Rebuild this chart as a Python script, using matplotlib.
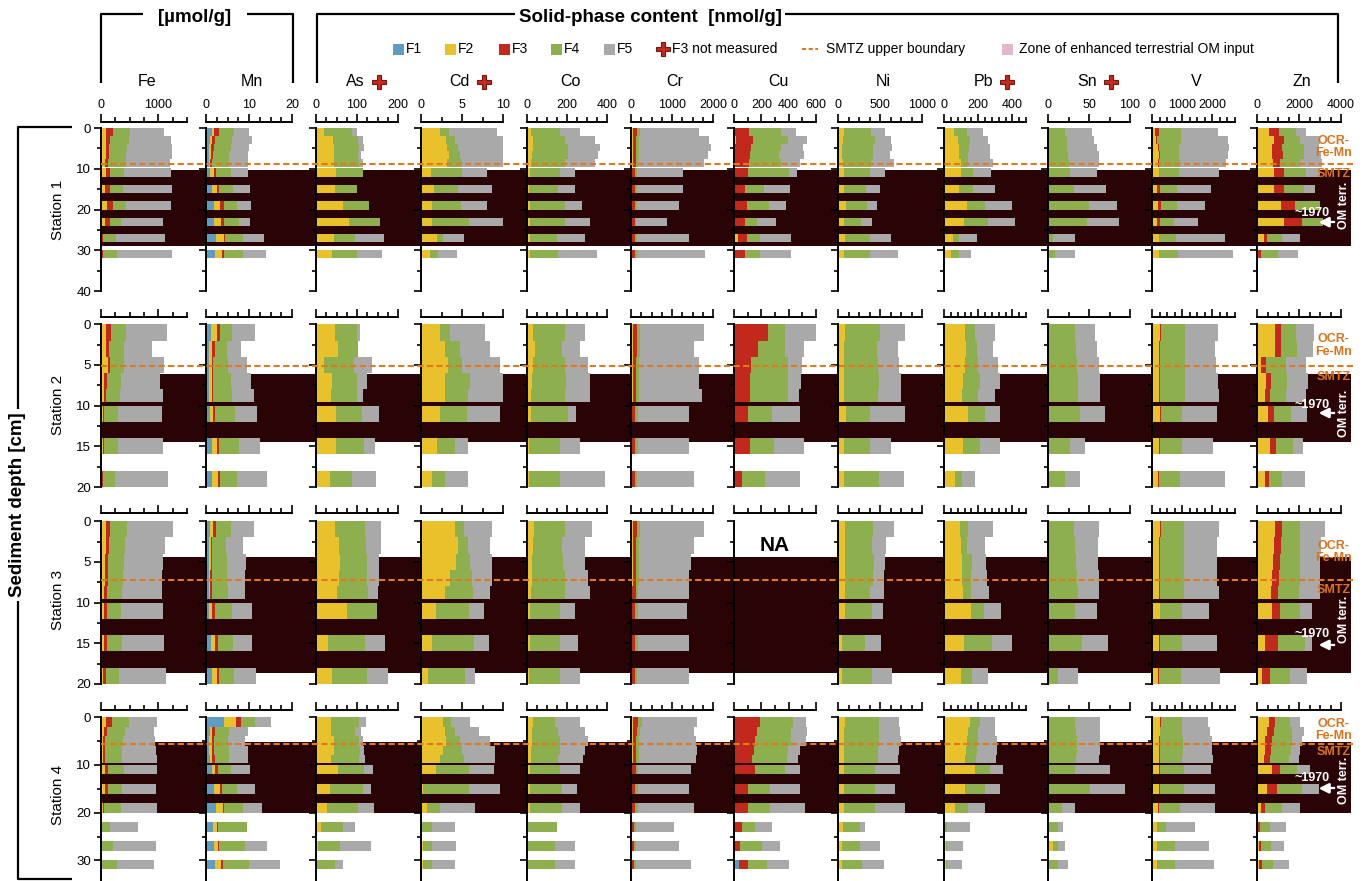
import matplotlib
matplotlib.use('Agg')
import matplotlib.pyplot as plt
import matplotlib.transforms as mtransforms
from matplotlib.patches import Rectangle
from matplotlib.lines import Line2D
import numpy as np

plt.rcParams['font.family'] = ['Liberation Sans', 'DejaVu Sans']

# ---- sample depth intervals [cm] per station ----
st1_depths = [(0, 1.9), (1.9, 3.8), (3.8, 5.7), (5.7, 7.6), (7.6, 9.5),
              (9.8, 12), (14, 16), (18, 20), (22, 24), (26, 28), (30, 32)]
st2_depths = [(0, 2), (2, 4), (4, 6), (6, 8), (8, 9.6), (10, 12), (14, 16), (18, 20)]
st3_depths = [(0, 2), (2, 4), (4, 6), (6, 8), (8, 9.6), (10, 12), (14, 16), (18, 20)]
st4_depths = [(0, 2), (2, 4), (4, 6), (6, 8), (8, 9.7),
              (10, 12), (14, 16), (18, 20), (22, 24), (26, 28), (29.8, 31.8)]

# SMTZ upper boundary and zone of enhanced terrestrial OM input [cm]
smtz_depth = [8.9, 5.1, 7.2, 5.7]
om_zone = [(10.3, 29.0), (6.1, 14.5), (4.4, 18.6), (5.2, 20.1)]

elements = ['Fe', 'Mn', 'As', 'Cd', 'Co', 'Cr', 'Cu', 'Ni', 'Pb', 'Sn', 'V', 'Zn']
f3_missing = ['As', 'Cd', 'Pb', 'Sn']
fractions = ['F1', 'F2', 'F3', 'F4', 'F5']

# fraction contents per sample: [F1, F2, F3, F4, F5], one list per station
fe_vals = [
    [[0, 90, 120, 290, 600], [0, 80, 70, 330, 740], [0, 80, 60, 320, 780], [0, 80, 60, 300, 790],
     [0, 70, 60, 300, 770], [0, 80, 75, 250, 810], [0, 70, 85, 230, 850], [0, 100, 115, 220, 785],
     [0, 65, 100, 185, 740], [0, 0, 40, 230, 840], [0, 0, 30, 255, 945]],
    [[0, 87, 87, 261, 713], [0, 87, 58, 261, 476], [0, 116, 41, 238, 696], [0, 58, 41, 249, 679],
     [0, 46, 41, 249, 754], [0, 29, 29, 244, 754], [0, 29, 29, 244, 783], [0, 0, 29, 215, 928]],
    [[0, 90, 70, 300, 800], [0, 80, 60, 280, 700], [0, 70, 60, 270, 690], [0, 70, 50, 270, 680],
     [0, 60, 50, 260, 690], [0, 50, 50, 250, 740], [0, 50, 50, 260, 740], [0, 40, 40, 230, 820]],
    [[0, 87, 99, 307, 476], [0, 58, 41, 319, 505], [0, 41, 35, 302, 563], [0, 41, 29, 290, 598],
     [0, 29, 41, 290, 610], [0, 70, 58, 278, 563], [0, 70, 58, 232, 592], [0, 29, 23, 290, 627],
     [0, 0, 0, 157, 493], [0, 0, 23, 191, 742], [0, 0, 23, 261, 638]],
]
mn_vals = [
    [[1.3, 0.6, 1.2, 3.4, 3.6], [0.9, 0.5, 0.7, 4.0, 4.5], [0.7, 0.5, 0.6, 3.9, 4.4], [0.6, 0.5, 0.5, 3.8, 4.4],
     [0.6, 0.4, 0.5, 3.9, 4.4], [1.0, 0.8, 0.5, 3.5, 4.0], [1.4, 1.2, 0.5, 3.1, 4.1], [1.9, 1.4, 0.8, 3.1, 3.3],
     [1.8, 1.6, 0.8, 3.5, 2.5], [2.3, 1.8, 0.4, 4.0, 4.9], [2.1, 1.6, 0.5, 4.4, 5.4]],
    [[1.2, 1.3, 0.8, 2.7, 5.4], [0.7, 0.8, 0.5, 2.9, 3.3], [0.7, 0.6, 0.4, 3.5, 4.3], [0.7, 0.6, 0.4, 4.1, 4.7],
     [0.7, 0.6, 0.4, 4.3, 5.1], [0.9, 0.8, 0.5, 4.5, 5.1], [1.3, 1.2, 0.5, 4.7, 4.9], [1.5, 1.2, 0.5, 3.9, 7.2]],
    [[0.9, 0.8, 0.6, 3.6, 5.2], [0.6, 0.5, 0.4, 3.2, 4.0], [0.6, 0.5, 0.4, 3.3, 4.4], [0.6, 0.4, 0.4, 3.5, 4.2],
     [0.6, 0.4, 0.4, 3.6, 4.0], [0.8, 0.7, 0.5, 4.0, 4.8], [1.2, 1.0, 0.5, 3.6, 4.3], [1.4, 1.1, 0.5, 3.6, 5.0]],
    [[4.1, 2.9, 1.2, 3.3, 3.6], [1.0, 0.5, 0.6, 3.3, 4.3], [0.8, 0.5, 0.5, 3.3, 3.9], [0.8, 0.5, 0.5, 3.6, 4.3],
     [1.0, 0.5, 0.5, 3.4, 4.4], [1.4, 0.8, 0.5, 3.1, 4.5], [1.9, 1.4, 0.5, 3.3, 4.4], [2.3, 1.6, 0.4, 4.3, 4.5],
     [1.7, 0.9, 0.3, 6.6, 0.0], [1.8, 0.9, 0.4, 6.0, 5.1], [2.2, 1.2, 0.5, 6.2, 7.0]],
]
as_vals = [
    [[0, 20, 0, 69, 12], [0, 41, 0, 61, 12], [0, 45, 0, 61, 11], [0, 45, 0, 57, 8], [0, 45, 0, 61, 8],
     [0, 49, 0, 65, 0], [0, 46, 0, 55, 0], [0, 67, 0, 63, 0], [0, 80, 0, 77, 0], [0, 45, 0, 51, 71],
     [0, 39, 0, 60, 63]],
    [[0, 46, 0, 54, 7], [0, 54, 0, 49, 0], [0, 20, 0, 72, 45], [0, 38, 0, 61, 26], [0, 36, 0, 63, 16],
     [0, 49, 0, 63, 41], [0, 49, 0, 67, 28], [0, 33, 0, 54, 59]],
    [[0, 46, 0, 73, 40], [0, 55, 0, 68, 35], [0, 58, 0, 66, 30], [0, 55, 0, 70, 28], [0, 52, 0, 75, 25],
     [0, 76, 0, 73, 0], [0, 29, 0, 90, 49], [0, 39, 0, 85, 51]],
    [[0, 37, 0, 69, 16], [0, 37, 0, 57, 15], [0, 45, 0, 61, 8], [0, 43, 0, 65, 8], [0, 37, 0, 67, 16],
     [0, 54, 0, 63, 23], [0, 34, 0, 80, 20], [0, 28, 0, 75, 39], [0, 11, 0, 56, 29], [0, 4, 0, 55, 75],
     [0, 2, 0, 44, 21]],
]
cd_vals = [
    [[0, 2.3, 0, 1.1, 5.9], [0, 3.1, 0, 1.1, 6.1], [0, 3.2, 0, 1.3, 6.1], [0, 3.4, 0, 1.3, 6.1],
     [0, 3.2, 0, 1.8, 5.6], [0, 1.2, 0, 3.8, 3.0], [0, 1.6, 0, 2.9, 4.1], [0, 1.3, 0, 3.6, 3.2],
     [0, 1.4, 0, 4.5, 4.3], [0, 1.9, 0, 0.8, 2.6], [0, 1.1, 0, 1.0, 2.3]],
    [[0, 2.3, 0, 1.2, 4.3], [0, 2.9, 0, 1.8, 3.7], [0, 3.3, 0, 1.7, 4.6], [0, 2.9, 0, 3.1, 4.3],
     [0, 2.9, 0, 2.8, 4.5], [0, 2.3, 0, 3.3, 4.0], [0, 2.0, 0, 2.2, 1.5], [0, 1.3, 0, 1.6, 2.8]],
    [[0, 4.1, 0, 1.2, 3.4], [0, 4.5, 0, 1.2, 2.7], [0, 4.3, 0, 1.7, 2.7], [0, 3.5, 0, 2.7, 2.4],
     [0, 2.9, 0, 3.5, 2.0], [0, 1.8, 0, 4.1, 1.8], [0, 1.3, 0, 5.2, 1.8], [0, 0.9, 0, 4.5, 1.2]],
    [[0, 2.7, 0, 0.9, 2.4], [0, 2.9, 0, 1.2, 3.0], [0, 3.0, 0, 1.7, 3.7], [0, 2.7, 0, 2.3, 4.0],
     [0, 2.3, 0, 3.0, 3.7], [0, 1.8, 0, 4.1, 3.0], [0, 0.2, 0, 5.7, 3.7], [0, 0.7, 0, 1.6, 4.3],
     [0, 0, 0, 1.3, 2.8], [0, 0.2, 0, 1.1, 3.0], [0, 0.2, 0, 1.1, 2.8]],
]
co_vals = [
    [[0, 20, 0, 145, 100], [0, 30, 0, 160, 150], [0, 30, 0, 175, 160], [0, 25, 0, 180, 150],
     [0, 20, 0, 170, 150], [0, 15, 0, 150, 75], [0, 10, 0, 145, 85], [0, 15, 0, 175, 85],
     [0, 15, 0, 175, 125], [0, 15, 0, 135, 140], [0, 15, 0, 140, 195]],
    [[0, 30, 0, 160, 100], [0, 40, 0, 135, 90], [0, 30, 0, 160, 115], [0, 25, 0, 170, 120],
     [0, 20, 0, 170, 125], [0, 20, 0, 185, 40], [0, 10, 0, 155, 100], [0, 10, 0, 155, 225]],
    [[0, 35, 0, 155, 135], [0, 30, 0, 145, 115], [0, 25, 0, 155, 110], [0, 25, 0, 165, 115],
     [0, 20, 0, 170, 125], [0, 15, 0, 150, 75], [0, 15, 0, 150, 90], [0, 10, 0, 155, 100]],
    [[0, 30, 0, 110, 125], [0, 25, 0, 130, 135], [0, 25, 0, 140, 140], [0, 20, 0, 145, 125],
     [0, 20, 0, 135, 125], [0, 15, 0, 150, 100], [0, 15, 0, 160, 75], [0, 15, 0, 160, 90],
     [0, 5, 0, 145, 0], [0, 5, 0, 135, 100], [0, 5, 0, 135, 100]],
]
cr_vals = [
    [[0, 50, 100, 70, 1440], [0, 40, 90, 70, 1700], [0, 40, 80, 70, 1750], [0, 40, 80, 70, 1700],
     [0, 40, 80, 60, 1600], [0, 30, 70, 50, 1110], [0, 30, 70, 50, 1110], [0, 30, 60, 50, 1040],
     [0, 30, 60, 40, 760], [0, 30, 70, 50, 1270], [0, 30, 70, 60, 1640]],
    [[0, 50, 100, 80, 1550], [0, 50, 90, 70, 1330], [0, 40, 90, 70, 1460], [0, 40, 80, 70, 1470],
     [0, 40, 80, 70, 1540], [0, 30, 70, 60, 1260], [0, 30, 70, 60, 1260], [0, 30, 60, 60, 1390]],
    [[0, 40, 100, 70, 1560], [0, 40, 90, 70, 1340], [0, 40, 80, 70, 1280], [0, 40, 80, 70, 1230],
     [0, 30, 80, 70, 1240], [0, 30, 70, 60, 1210], [0, 30, 70, 60, 1260], [0, 30, 60, 60, 1270]],
    [[0, 60, 120, 80, 1340], [0, 50, 100, 80, 1300], [0, 40, 90, 70, 1380], [0, 40, 80, 70, 1410],
     [0, 40, 80, 70, 1390], [0, 30, 80, 60, 1290], [0, 30, 70, 60, 1260], [0, 30, 70, 60, 1380],
     [0, 20, 60, 40, 940], [0, 20, 60, 40, 1060], [0, 20, 60, 50, 1330]],
]
cu_vals = [
    [[0, 10, 100, 232, 110], [0, 17, 125, 250, 140], [0, 5, 120, 220, 160], [0, 5, 115, 212, 178],
     [0, 5, 105, 232, 142], [0, 0, 105, 298, 56], [0, 0, 80, 139, 190], [0, 0, 98, 159, 122],
     [0, 0, 78, 93, 134], [0, 29, 68, 93, 224], [0, 10, 71, 110, 229]],
    [[0, 10, 240, 120, 230], [0, 5, 170, 200, 140], [0, 5, 120, 270, 100], [0, 5, 110, 280, 95],
     [0, 5, 110, 280, 80], [0, 0, 100, 175, 205], [0, 0, 115, 180, 220], [0, 0, 60, 170, 255]],
    None,
    [[0, 10, 180, 240, 100], [0, 5, 160, 250, 120], [0, 5, 150, 260, 110], [0, 5, 140, 250, 90],
     [0, 5, 130, 250, 80], [0, 0, 150, 220, 110], [0, 0, 100, 160, 220], [0, 0, 100, 160, 260],
     [0, 0, 60, 95, 125], [0, 0, 45, 160, 130], [40, 0, 60, 145, 160]],
]
ni_vals = [
    [[0, 67, 0, 330, 159], [0, 60, 0, 377, 198], [0, 52, 0, 365, 230], [0, 52, 0, 365, 198],
     [0, 60, 0, 337, 266], [0, 67, 0, 310, 179], [0, 67, 0, 262, 175], [0, 99, 0, 246, 119],
     [0, 67, 0, 210, 131], [0, 79, 0, 298, 258], [0, 67, 0, 310, 337]],
    [[0, 80, 0, 420, 300], [0, 70, 0, 400, 240], [0, 70, 0, 410, 250], [0, 70, 0, 420, 260],
     [0, 70, 0, 410, 270], [0, 90, 0, 290, 420], [0, 70, 0, 310, 250], [0, 70, 0, 420, 300]],
    [[0, 87, 0, 330, 246], [0, 87, 0, 322, 167], [0, 79, 0, 346, 131], [0, 79, 0, 338, 127],
     [0, 79, 0, 306, 159], [0, 87, 0, 322, 127], [0, 52, 0, 274, 190], [0, 48, 0, 357, 242]],
    [[0, 80, 0, 410, 240], [0, 70, 0, 420, 250], [0, 70, 0, 420, 260], [0, 70, 0, 410, 250],
     [0, 70, 0, 410, 240], [0, 70, 0, 370, 300], [0, 70, 0, 370, 240], [0, 70, 0, 370, 360],
     [0, 60, 0, 200, 60], [0, 50, 0, 210, 240], [0, 50, 0, 230, 270]],
]
pb_vals = [
    [[0, 58, 0, 74, 94], [0, 84, 0, 68, 107], [0, 90, 0, 58, 121], [0, 90, 0, 53, 127],
     [0, 98, 0, 45, 142], [0, 98, 0, 70, 105], [0, 90, 0, 78, 131], [0, 133, 0, 107, 156],
     [0, 119, 0, 137, 160], [0, 51, 0, 39, 101], [0, 39, 0, 51, 66]],
    [[0, 123, 0, 58, 117], [0, 129, 0, 64, 94], [0, 123, 0, 76, 117], [0, 111, 0, 100, 117],
     [0, 105, 0, 94, 100], [0, 140, 0, 100, 88], [0, 111, 0, 100, 117], [0, 64, 0, 41, 76]],
    [[0, 94, 0, 49, 146], [0, 98, 0, 35, 107], [0, 103, 0, 59, 84], [0, 103, 0, 53, 94],
     [0, 109, 0, 47, 109], [0, 156, 0, 78, 98], [0, 117, 0, 166, 113], [0, 98, 0, 64, 98]],
    [[0, 152, 0, 58, 88], [0, 140, 0, 60, 100], [0, 135, 0, 65, 110], [0, 130, 0, 65, 115],
     [0, 125, 0, 60, 120], [0, 181, 0, 88, 76], [0, 123, 0, 117, 88], [0, 64, 0, 76, 100],
     [0, 0, 0, 20, 130], [0, 10, 0, 10, 90], [0, 10, 0, 10, 85]],
]
sn_vals = [
    [[0, 0, 0, 21, 33], [0, 0, 0, 23, 33], [0, 0, 0, 23, 37], [0, 0, 0, 24, 38], [0, 0, 0, 25, 37],
     [0, 0, 0, 27, 33], [0, 0, 0, 32, 39], [0, 0, 0, 50, 34], [0, 0, 0, 47, 39], [0, 0, 0, 6, 27],
     [0, 0, 0, 8, 25]],
    [[0, 0, 0, 33, 24], [0, 0, 0, 34, 26], [0, 0, 0, 35, 27], [0, 0, 0, 36, 27], [0, 0, 0, 37, 26],
     [0, 0, 0, 39, 30], [0, 0, 0, 27, 18], [0, 0, 0, 21, 18]],
    [[0, 0, 0, 32, 30], [0, 0, 0, 33, 28], [0, 0, 0, 34, 27], [0, 0, 0, 35, 27], [0, 0, 0, 36, 26],
     [0, 0, 0, 33, 27], [0, 0, 0, 41, 32], [0, 0, 0, 12, 24]],
    [[0, 0, 0, 33, 30], [0, 0, 0, 34, 30], [0, 0, 0, 35, 29], [0, 0, 0, 35, 28], [0, 0, 0, 34, 28],
     [0, 0, 0, 33, 43], [0, 0, 0, 51, 43], [0, 0, 0, 17, 16], [0, 0, 0, 12, 6], [0, 6, 0, 6, 9],
     [0, 0, 0, 12, 12]],
]
v_vals = [
    [[0, 88, 143, 737, 1210], [0, 143, 30, 795, 1540], [0, 198, 20, 693, 1628], [0, 231, 20, 660, 1595],
     [0, 198, 20, 695, 1540], [0, 231, 0, 660, 1342], [0, 165, 88, 583, 1122], [0, 198, 110, 528, 935],
     [0, 165, 88, 462, 803], [0, 231, 0, 550, 1628], [0, 231, 0, 627, 1815]],
    [[0, 260, 50, 780, 1090], [0, 240, 40, 800, 1000], [0, 230, 30, 820, 1050], [0, 220, 30, 830, 1100],
     [0, 220, 30, 830, 1150], [0, 260, 30, 700, 1150], [0, 230, 30, 720, 1050], [0, 200, 30, 700, 1500]],
    [[0, 260, 40, 760, 1150], [0, 240, 30, 780, 1100], [0, 230, 30, 800, 1080], [0, 220, 30, 810, 1100],
     [0, 220, 30, 820, 1150], [0, 250, 30, 720, 900], [0, 220, 30, 750, 1150], [0, 200, 30, 720, 1300]],
    [[0, 270, 40, 700, 830], [0, 250, 30, 730, 900], [0, 240, 30, 760, 950], [0, 230, 30, 760, 980],
     [0, 220, 30, 760, 1000], [0, 220, 30, 800, 920], [0, 220, 30, 800, 1050], [0, 200, 30, 700, 1150],
     [0, 150, 20, 300, 950], [0, 150, 20, 580, 1150], [0, 150, 20, 580, 1300]],
]
zn_vals = [
    [[0, 556, 477, 843, 477], [0, 795, 477, 795, 954], [0, 715, 477, 1033, 715], [0, 715, 525, 1017, 795],
     [0, 763, 350, 954, 1033], [0, 795, 477, 1081, 668], [0, 827, 445, 986, 525], [0, 1161, 668, 1161, 0],
     [0, 1272, 874, 1002, 0], [0, 318, 159, 715, 874], [0, 50, 160, 795, 954]],
    [[0, 843, 318, 715, 827], [0, 843, 318, 747, 747], [0, 207, 238, 922, 986], [0, 413, 238, 779, 1002],
     [0, 366, 238, 763, 954], [0, 525, 270, 843, 747], [0, 604, 286, 827, 477], [0, 366, 191, 652, 1065]],
    [[0, 857, 333, 857, 1190], [0, 800, 330, 900, 1000], [0, 750, 330, 950, 950], [0, 700, 330, 1000, 950],
     [0, 650, 330, 1000, 1000], [0, 714, 380, 950, 570], [0, 380, 620, 1285, 330], [0, 240, 380, 950, 800]],
    [[0, 556, 318, 715, 477], [0, 477, 318, 874, 556], [0, 398, 318, 954, 477], [0, 366, 318, 938, 445],
     [0, 318, 318, 874, 477], [0, 715, 398, 795, 636], [0, 477, 477, 1193, 795], [0, 207, 159, 827, 843],
     [0, 40, 90, 509, 731], [0, 80, 111, 477, 604], [0, 80, 159, 525, 747]],
]

data = {'Fe': fe_vals, 'Mn': mn_vals, 'As': as_vals, 'Cd': cd_vals, 'Co': co_vals, 'Cr': cr_vals,
        'Cu': cu_vals, 'Ni': ni_vals, 'Pb': pb_vals, 'Sn': sn_vals, 'V': v_vals, 'Zn': zn_vals}
depths = [st1_depths, st2_depths, st3_depths, st4_depths]

# x-axis ranges, labelled ticks and minor tick step per element
x_max = {'Fe': 1500, 'Mn': 20, 'As': 200, 'Cd': 10, 'Co': 400, 'Cr': 2000,
         'Cu': 600, 'Ni': 1000, 'Pb': 480, 'Sn': 100, 'V': 2750, 'Zn': 4000}
x_major = {'Fe': [0, 1000], 'Mn': [0, 10, 20], 'As': [0, 100, 200], 'Cd': [0, 5, 10],
           'Co': [0, 200, 400], 'Cr': [0, 1000, 2000], 'Cu': [0, 200, 400, 600],
           'Ni': [0, 500, 1000], 'Pb': [0, 200, 400], 'Sn': [0, 50, 100],
           'V': [0, 1000, 2000], 'Zn': [0, 2000, 4000]}
x_step = {'Fe': 250, 'Mn': 2.5, 'As': 25, 'Cd': 2.5, 'Co': 50, 'Cr': 250,
          'Cu': 100, 'Ni': 125, 'Pb': 40, 'Sn': 25, 'V': 250, 'Zn': 500}

# ---- layout (pixels) ----
W, H = 1365, 881
col_left = [101, 206, 316, 421, 527, 631, 734, 838, 944, 1048, 1152, 1257]
col_width = [86, 86, 82, 82, 80, 82, 82, 84, 82, 82, 83, 84]
row_top = [122, 317, 513, 710]
row_bottom = [291, 487, 684, 881]
row_ylim = [(40, -1.5), (20, -0.9), (20, -1.0), (34.3, -1.5)]
row_ymajor = [10, 5, 5, 10]
band_x0, band_x1 = 101, 1351

colors = ['#5e9cc2', '#e9c12b', '#c3281c', '#8eaf4e', '#a9a9a9']
band_color = '#2a0306'
smtz_color = '#e07a1f'
label_orange = '#d9741c'
cross_color = '#c8281c'

fig = plt.figure(figsize=(W / 100, H / 100), dpi=100)

axes = [[None] * len(elements) for _ in range(4)]
for r in range(4):
    ybot, ytop = row_ylim[r]
    iv = np.array(depths[r], dtype=float)
    centers = iv.mean(axis=1)
    thick = iv[:, 1] - iv[:, 0]
    for c, el in enumerate(elements):
        ax = fig.add_axes([col_left[c] / W, 1 - row_bottom[r] / H,
                           col_width[c] / W, (row_bottom[r] - row_top[r]) / H])
        axes[r][c] = ax
        ax.patch.set_visible(False)
        rows = data[el][r]
        if rows is None:
            ax.text(0.5, 3.0, 'NA', transform=mtransforms.blended_transform_factory(ax.transAxes, ax.transData),
                    ha='center', va='center', fontsize=15, fontweight='bold')
        else:
            vals = np.array(rows, dtype=float)
            left = np.zeros(len(vals))
            for k in range(5):
                ax.barh(centers, vals[:, k], left=left, height=thick,
                        color=colors[k], linewidth=0)
                left += vals[:, k]
        ax.set_xlim(0, x_max[el])
        ax.set_ylim(ybot, ytop)
        for s in ['right', 'bottom']:
            ax.spines[s].set_visible(False)
        ax.spines['left'].set_bounds(0, ybot)
        for s in ['left', 'top']:
            ax.spines[s].set_linewidth(1.4)
        ax.xaxis.tick_top()
        ax.set_xticks(x_major[el])
        ax.set_xticks(np.arange(0, x_max[el] + 1e-9, x_step[el]), minor=True)
        ax.tick_params(axis='x', which='major', length=6, width=1.2, pad=2,
                       labelsize=9, labeltop=(r == 0), labelbottom=False)
        ax.tick_params(axis='x', which='minor', length=3.5, width=1.2)
        ax.set_yticks(np.arange(0, ybot + 0.01, row_ymajor[r]))
        ax.set_yticks(np.arange(0, ybot + 0.01, row_ymajor[r] / 2), minor=True)
        ax.tick_params(axis='y', which='major', length=5, width=1.2, pad=2,
                       labelsize=9.5, labelleft=(c == 0))
        ax.tick_params(axis='y', which='minor', length=3, width=1.2)

    # terrestrial OM band and SMTZ line spanning all panels of the row
    tr = mtransforms.blended_transform_factory(fig.transFigure, axes[r][0].transData)
    z0, z1 = om_zone[r]
    fig.add_artist(Rectangle((band_x0 / W, z0), (band_x1 - band_x0) / W, z1 - z0,
                             transform=tr, facecolor=band_color, edgecolor='none', zorder=-5))
    fig.add_artist(Line2D([band_x0 / W, (band_x1 + 2) / W], [smtz_depth[r]] * 2, transform=tr,
                          color=smtz_color, lw=1.5, ls=(0, (3, 1.6)), zorder=5))

# ---- annotations at the right edge of each station ----
ocr_y = [4.7, 2.6, 3.8, 2.7]
smtz_lab_y = [11.3, 6.5, 8.5, 7.3]
omterr_y = [18.9, 10.9, 12.1, 13.2]
yr1970_y = [20.9, 9.9, 13.9, 12.8]
arrow_y = [23.1, 10.9, 15.2, 14.9]
for r in range(4):
    ax = axes[r][-1]
    bt = mtransforms.blended_transform_factory(ax.transAxes, ax.transData)
    ax.text(0.91, ocr_y[r], 'OCR-\nFe-Mn', transform=bt, ha='center', va='center', color=label_orange,
            fontsize=9, fontweight='bold', linespacing=1.05, clip_on=False, zorder=6)
    ax.text(0.91, smtz_lab_y[r], 'SMTZ', transform=bt, ha='center', va='center', color=label_orange,
            fontsize=9, fontweight='bold', clip_on=False, zorder=6)
    ax.text(1.03, omterr_y[r], 'OM terr.', transform=bt, ha='center', va='center', color='white',
            fontsize=9, fontweight='bold', rotation=90, clip_on=False, zorder=6)
    ax.text(0.66, yr1970_y[r], '~1970', transform=bt, ha='center', va='center', color='white',
            fontsize=9, fontweight='bold', clip_on=False, zorder=6)
    ax.annotate('', xy=(0.70, arrow_y[r]), xytext=(0.85, arrow_y[r]), xycoords=bt, textcoords=bt,
                arrowprops=dict(arrowstyle='-|>', color='white', lw=2.0, mutation_scale=14),
                annotation_clip=False, zorder=6)
    ax.plot([0.88, 0.92], [arrow_y[r]] * 2, transform=bt, color='white', lw=1.6, clip_on=False, zorder=6)

# ---- header, legend and side labels drawn in pixel coordinates ----
ov = fig.add_axes([0, 0, 1, 1], zorder=20)
ov.set_xlim(0, W)
ov.set_ylim(H, 0)
ov.axis('off')

lk = dict(color='black', lw=1.6, solid_capstyle='butt')
ov.plot([101, 101, 143], [83, 14, 14], **lk)
ov.plot([247, 293, 293], [14, 14, 83], **lk)
ov.text(195, 17, '[µmol/g]', ha='center', va='center', fontsize=13.5, fontweight='bold')
ov.plot([317, 317, 515], [83, 14, 14], **lk)
ov.plot([785, 1338, 1338], [14, 14, 83], **lk)
ov.text(650, 17, 'Solid-phase content  [nmol/g]', ha='center', va='center', fontsize=13.5,
        fontweight='bold')

ov.plot([72, 18, 18, 72], [127, 127, 879, 879], **lk)
ov.text(18, 505, 'Sediment depth [cm]', rotation=90, ha='center', va='center', fontsize=13.5,
        fontweight='bold', bbox=dict(facecolor='white', edgecolor='none', pad=3))
for r, yc in enumerate([210, 405, 600, 795]):
    ov.text(58, yc, 'Station %d' % (r + 1), rotation=90, ha='center', va='center', fontsize=11)

# element names
for c, el in enumerate(elements):
    xc = col_left[c] + col_width[c] / 2
    if el in f3_missing:
        ov.text(xc + 8, 82, el, ha='right', va='center', fontsize=11.5)
        ov.plot(xc + 22, 82, marker='P', ms=10, color=cross_color, mec='#6a1a10', mew=0.8)
    else:
        ov.text(xc + 3, 82, el, ha='center', va='center', fontsize=11.5)

# legend
leg_y = 49
for k, x0 in enumerate([393, 445, 499, 551, 604]):
    ov.add_patch(Rectangle((x0, leg_y - 5.5), 11, 11, facecolor=colors[k], edgecolor='none'))
    ov.text(x0 + 13, leg_y, fractions[k], ha='left', va='center', fontsize=10)
ov.plot(663, leg_y, marker='P', ms=10, color=cross_color, mec='#6a1a10', mew=0.8)
ov.text(672, leg_y, 'F3 not measured', ha='left', va='center', fontsize=10)
ov.plot([802, 818], [leg_y, leg_y], color=smtz_color, lw=1.5, ls=(0, (2, 1.2)))
ov.text(826, leg_y, 'SMTZ upper boundary', ha='left', va='center', fontsize=10)
ov.add_patch(Rectangle((1002, leg_y - 5.5), 11, 11, facecolor='#e2b7c9', edgecolor='none'))
ov.text(1019, leg_y, 'Zone of enhanced terrestrial OM input', ha='left', va='center', fontsize=10)

fig.savefig('out.png', dpi=100)
